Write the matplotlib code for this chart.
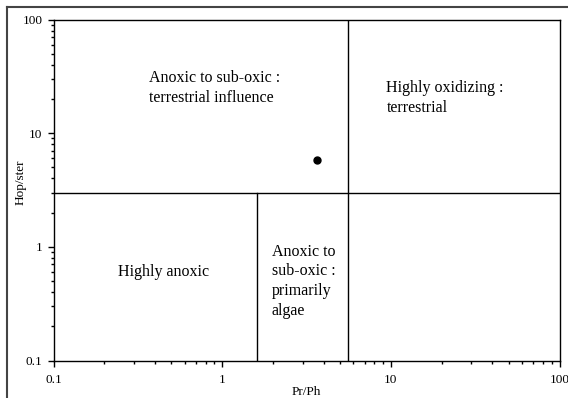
import matplotlib
matplotlib.use("Agg")
import matplotlib.pyplot as plt
from matplotlib import ticker
from matplotlib.lines import Line2D

plt.rcParams['font.family'] = ['Liberation Serif', 'DejaVu Serif']

# sample
pr_ph = [3.63]
hop_ster = [5.8]

# field boundaries
hop_cut = 3.0
pr_low = 1.6
pr_high = 5.6

fields = [
    ("Anoxic to sub-oxic :\nterrestrial influence", 0.189, 0.852),
    ("Highly oxidizing :\nterrestrial", 0.658, 0.822),
    ("Highly anoxic", 0.127, 0.283),
    ("Anoxic to\nsub-oxic :\nprimarily\nalgae", 0.431, 0.342),
]

fig = plt.figure(figsize=(5.68, 3.98), dpi=100)
ax = fig.add_axes([53.5 / 568, 1 - 360.5 / 398, 506 / 568, 341 / 398])

ax.set_xscale('log')
ax.set_yscale('log')
ax.set_xlim(0.1, 100)
ax.set_ylim(0.1, 100)

ax.axhline(hop_cut, color='black', lw=1)
ax.axvline(pr_high, color='black', lw=1)
ax.plot([pr_low, pr_low], [0.1, hop_cut], color='black', lw=1)

ax.plot(pr_ph, hop_ster, 'o', color='black', markersize=5)

for txt, fx, fy in fields:
    ax.text(fx, fy, txt, transform=ax.transAxes, fontsize=11.5,
            ha='left', va='top', linespacing=1.3)

fmt = ticker.FuncFormatter(lambda v, p: f"{v:g}")
for axis in (ax.xaxis, ax.yaxis):
    axis.set_major_locator(ticker.LogLocator(base=10))
    axis.set_minor_locator(ticker.LogLocator(base=10, subs=range(2, 10)))
    axis.set_major_formatter(fmt)
    axis.set_minor_formatter(ticker.NullFormatter())

ax.tick_params(which='major', length=4, width=1, labelsize=9.5, direction='out')
ax.tick_params(which='minor', length=2.5, width=1, direction='out')
ax.tick_params(axis='x', pad=6)
ax.tick_params(axis='y', pad=4)

ax.set_xlabel("Pr/Ph", fontsize=9.5, labelpad=0)
ax.set_ylabel("Hop/ster", fontsize=9.5)
ax.yaxis.set_label_coords(-0.054, 0.523)

for s in ax.spines.values():
    s.set_linewidth(1)

# frame lines along the top and left of the figure
fig.add_artist(Line2D([7 / 568, 1], [1 - 7 / 398, 1 - 7 / 398],
                      transform=fig.transFigure, color='#444444', lw=1.5))
fig.add_artist(Line2D([7 / 568, 7 / 568], [0, 1 - 7 / 398],
                      transform=fig.transFigure, color='#444444', lw=1.5))

fig.savefig("out.png", dpi=100)
